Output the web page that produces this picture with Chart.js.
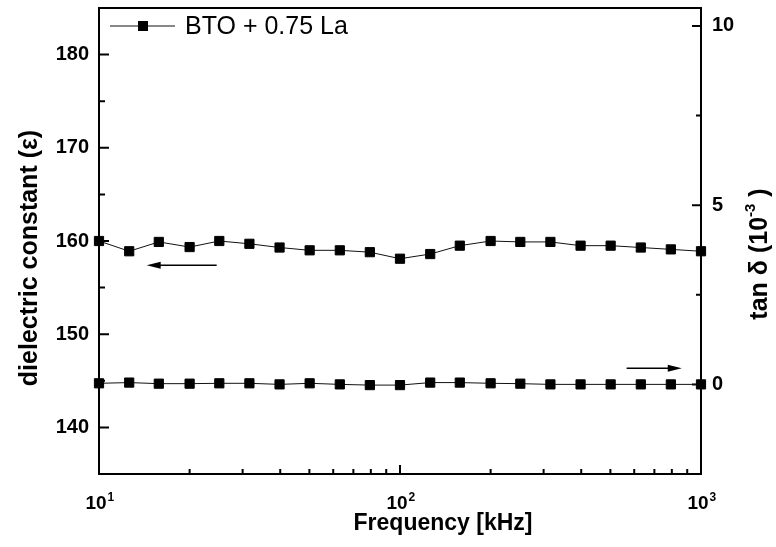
<!DOCTYPE html>
<html>
<head>
<meta charset="utf-8">
<script src="https://cdn.jsdelivr.net/npm/chart.js@4.4.0/dist/chart.umd.min.js"></script>
<style>
html, body { margin: 0; padding: 0; background: #fff; }
</style>
</head>
<body>
<canvas id="dielectricChart" width="776" height="547"></canvas>
<script>
// data
const frequencies = [10, 12.6, 15.8, 20, 25.1, 31.6, 39.8, 50.1, 63.1, 79.4, 100, 126, 158, 200, 251, 316, 398, 501, 631, 794, 1000];
const permittivity = [160.0, 158.9, 159.9, 159.35, 160.0, 159.7, 159.3, 159.0, 159.0, 158.8, 158.1, 158.6, 159.5, 160.0, 159.9, 159.9, 159.5, 159.5, 159.3, 159.1, 158.9];
const lossTangent = [0.03, 0.05, 0.02, 0.02, 0.03, 0.03, 0.0, 0.03, 0.0, -0.02, -0.02, 0.05, 0.05, 0.03, 0.02, 0.0, 0.0, 0.0, 0.0, 0.0, 0.0];

const freqTicks = [10, 100, 1000];
const freqTickExp = ['1', '2', '3'];
const epsTicks = [140, 150, 160, 170, 180];
const epsMinor = [145, 155, 165, 175];
const tanTicks = [0, 5, 10];
const tanMinor = [2.5, 7.5];

const seriesLabel = 'BTO + 0.75 La';
const FONT = "'Liberation Sans', Arial, sans-serif";

const pointStyle = {
  borderColor: '#111',
  borderWidth: 1,
  pointStyle: 'rect',
  pointRadius: 6.5,
  pointBackgroundColor: '#000',
  pointBorderColor: '#000',
  pointBorderWidth: 1,
  tension: 0,
  clip: false
};

function arrow(c, x1, y, x2) {
  const dir = Math.sign(x2 - x1);
  c.beginPath();
  c.moveTo(x1, y);
  c.lineTo(x2 - dir * 10, y);
  c.lineWidth = 1.5;
  c.strokeStyle = '#000';
  c.stroke();
  c.beginPath();
  c.moveTo(x2, y);
  c.lineTo(x2 - dir * 14, y - 3.5);
  c.lineTo(x2 - dir * 14, y + 3.5);
  c.closePath();
  c.fillStyle = '#000';
  c.fill();
}

const framePlugin = {
  id: 'frame',
  beforeDatasetsDraw(chart) {
    const c = chart.ctx, a = chart.chartArea;
    const x = chart.scales.x, y = chart.scales.y, y1 = chart.scales.y1;
    c.save();
    c.strokeStyle = '#000';
    c.lineWidth = 2;
    c.strokeRect(a.left, a.top, a.right - a.left, a.bottom - a.top);

    // inward ticks
    c.beginPath();
    epsTicks.forEach(v => { const p = y.getPixelForValue(v); c.moveTo(a.left, p); c.lineTo(a.left + 10, p); });
    epsMinor.forEach(v => { const p = y.getPixelForValue(v); c.moveTo(a.left, p); c.lineTo(a.left + 6, p); });
    tanTicks.forEach(v => { const p = y1.getPixelForValue(v); c.moveTo(a.right, p); c.lineTo(a.right - 9, p); });
    tanMinor.forEach(v => { const p = y1.getPixelForValue(v); c.moveTo(a.right, p); c.lineTo(a.right - 5, p); });
    freqTicks.forEach(v => { const p = x.getPixelForValue(v); c.moveTo(p, a.bottom); c.lineTo(p, a.bottom - 9); });
    [10, 100].forEach(d => {
      for (let k = 2; k <= 9; k++) {
        const p = x.getPixelForValue(d * k);
        c.moveTo(p, a.bottom); c.lineTo(p, a.bottom - 5);
      }
    });
    c.stroke();
    c.restore();
  },
  afterDraw(chart) {
    const c = chart.ctx, a = chart.chartArea;
    const x = chart.scales.x, y = chart.scales.y, y1 = chart.scales.y1;
    c.save();

    // x tick labels 10^n
    c.fillStyle = '#000';
    c.textBaseline = 'alphabetic';
    freqTicks.forEach((v, i) => {
      const p = x.getPixelForValue(v);
      c.font = 'bold 19px ' + FONT;
      const w = c.measureText('10').width;
      c.textAlign = 'left';
      c.fillText('10', p - w / 2 - 3, a.bottom + 35);
      c.font = 'bold 12px ' + FONT;
      c.fillText(freqTickExp[i], p + w / 2 - 2, a.bottom + 27);
    });

    // axis titles
    c.font = 'bold 23px ' + FONT;
    c.textAlign = 'center';
    c.fillText('Frequency [kHz]', (a.left + a.right) / 2 + 43, a.bottom + 56);

    c.save();
    c.translate(37, 258);
    c.rotate(-Math.PI / 2);
    c.font = 'bold 25px ' + FONT;
    c.fillText('dielectric constant (\u03b5)', 0, 0);
    c.restore();

    c.save();
    c.translate(767, 254);
    c.rotate(-Math.PI / 2);
    c.font = 'bold 25px ' + FONT;
    const main = 'tan \u03b4 (10';
    const wMain = c.measureText(main).width;
    c.font = 'bold 15px ' + FONT;
    const sup = '-3';
    const wSup = c.measureText(sup).width;
    c.font = 'bold 25px ' + FONT;
    const wClose = c.measureText(' )').width;
    const total = wMain + wSup + wClose;
    c.textAlign = 'left';
    let tx = -total / 2;
    c.fillText(main, tx, 0);
    tx += wMain;
    c.font = 'bold 15px ' + FONT;
    c.fillText(sup, tx, -12);
    tx += wSup;
    c.font = 'bold 25px ' + FONT;
    c.fillText(' )', tx, 0);
    c.restore();

    // arrows pointing to the axes
    arrow(c, x.getPixelForValue(24.6), y.getPixelForValue(157.4), x.getPixelForValue(14.4));
    arrow(c, x.getPixelForValue(566), y1.getPixelForValue(0.45), x.getPixelForValue(863));

    // legend
    const ly = a.top + 18;
    c.beginPath();
    c.moveTo(a.left + 11, ly);
    c.lineTo(a.left + 76, ly);
    c.lineWidth = 1;
    c.strokeStyle = '#111';
    c.stroke();
    c.fillStyle = '#000';
    c.fillRect(a.left + 39, ly - 5, 10, 10);
    c.font = '25px ' + FONT;
    c.textAlign = 'left';
    c.textBaseline = 'middle';
    c.fillText(seriesLabel, a.left + 86, ly + 1);
    c.restore();
  }
};

const tickFont = { family: FONT, size: 20, weight: 'bold' };

function fixY(width) {
  return s => { s.width = width; s.paddingTop = 0; s.paddingBottom = 0; };
}

const ctx = document.getElementById('dielectricChart').getContext('2d');
const chart = new Chart(ctx, {
  type: 'line',
  data: {
    datasets: [
      Object.assign({ label: seriesLabel, yAxisID: 'y',
        data: frequencies.map((f, i) => ({ x: f, y: permittivity[i] })) }, pointStyle),
      Object.assign({ label: 'tan delta', yAxisID: 'y1',
        data: frequencies.map((f, i) => ({ x: f, y: lossTangent[i] })) }, pointStyle)
    ]
  },
  options: {
    responsive: false,
    animation: false,
    layout: { padding: { top: 8, left: 0, right: 0, bottom: 0 } },
    plugins: { legend: { display: false }, tooltip: { enabled: false } },
    scales: {
      x: {
        type: 'logarithmic', min: 10, max: 1000,
        afterBuildTicks: s => { s.ticks = freqTicks.map(v => ({ value: v })); },
        afterFit: s => { s.height = 73; s.paddingLeft = 0; s.paddingRight = 0; },
        grid: { display: false, drawTicks: false },
        border: { display: false },
        ticks: { display: false }
      },
      y: {
        position: 'left', min: 135, max: 185,
        afterBuildTicks: s => { s.ticks = epsTicks.map(v => ({ value: v })); },
        afterFit: fixY(99),
        grid: { display: false, drawTicks: false },
        border: { display: false },
        ticks: { font: tickFont, color: '#000', padding: 10 }
      },
      y1: {
        position: 'right', min: -2.5, max: 10.5,
        afterBuildTicks: s => { s.ticks = tanTicks.map(v => ({ value: v })); },
        afterFit: fixY(75),
        grid: { display: false, drawTicks: false },
        border: { display: false },
        ticks: { font: tickFont, color: '#000', padding: 11 }
      }
    }
  },
  plugins: [framePlugin]
});
</script>
</body>
</html>
